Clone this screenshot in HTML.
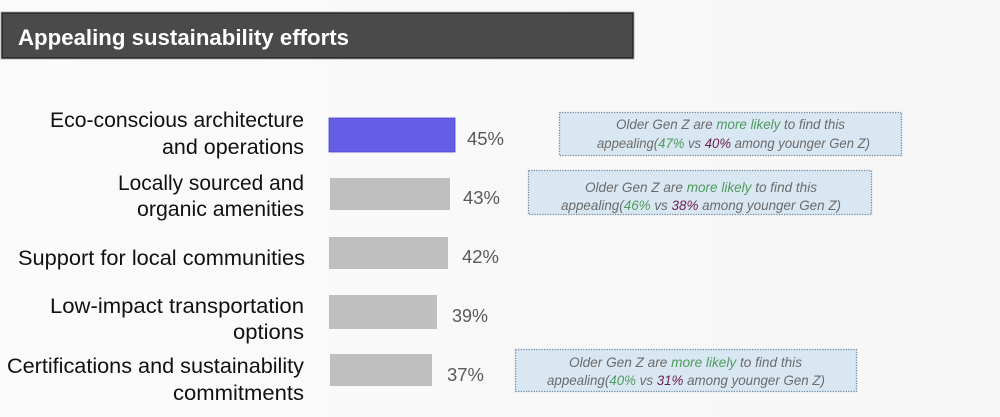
<!DOCTYPE html>
<html><head><meta charset="utf-8">
<style>
html,body{margin:0;padding:0;background:#f9f9f9;}
svg{display:block;}
text{font-family:"Liberation Sans",sans-serif;}
</style></head>
<body>
<svg width="1000" height="417" viewBox="0 0 1000 417" xmlns="http://www.w3.org/2000/svg">
<defs>
<linearGradient id="bg" x1="0" y1="0" x2="1" y2="0">
<stop offset="0" stop-color="#fbfbfb"/><stop offset="1" stop-color="#f6f6f6"/>
</linearGradient>
</defs>
<rect x="0" y="0" width="1000" height="417" fill="url(#bg)"/>

<!-- title bar -->
<rect x="1" y="12" width="633" height="47" fill="none" stroke="#b5b5b5" stroke-width="1"/>
<rect x="2" y="13" width="631" height="45" fill="#4a4a4a" stroke="#1c1c1c" stroke-width="1.2"/>
<text x="18" y="45" font-size="22" font-weight="bold" fill="#ffffff" textLength="331" lengthAdjust="spacingAndGlyphs">Appealing sustainability efforts</text>

<!-- category labels -->
<g font-size="21" fill="#111111" text-anchor="end">
<text x="304" y="127" textLength="254" lengthAdjust="spacingAndGlyphs">Eco-conscious architecture</text>
<text x="304" y="154" textLength="142" lengthAdjust="spacingAndGlyphs">and operations</text>
<text x="304" y="190" textLength="186" lengthAdjust="spacingAndGlyphs">Locally sourced and</text>
<text x="304" y="216" textLength="167" lengthAdjust="spacingAndGlyphs">organic amenities</text>
<text x="305" y="265" textLength="287" lengthAdjust="spacingAndGlyphs">Support for local communities</text>
<text x="304" y="313" textLength="254" lengthAdjust="spacingAndGlyphs">Low-impact transportation</text>
<text x="304" y="339" textLength="71" lengthAdjust="spacingAndGlyphs">options</text>
<text x="304" y="373" textLength="297" lengthAdjust="spacingAndGlyphs">Certifications and sustainability</text>
<text x="304" y="400" textLength="131" lengthAdjust="spacingAndGlyphs">commitments</text>
</g>

<!-- bars -->
<rect x="329" y="118" width="126" height="34" fill="#665de6" stroke="#4d45c8" stroke-width="0.8"/>
<rect x="330" y="178" width="120" height="32" fill="#bfbfbf"/>
<rect x="329" y="237" width="119" height="32" fill="#bfbfbf"/>
<rect x="329" y="295" width="108" height="34" fill="#bfbfbf"/>
<rect x="330" y="354" width="102" height="32" fill="#bfbfbf"/>

<!-- value labels -->
<g font-size="18" fill="#595959">
<text x="467" y="145" textLength="37" lengthAdjust="spacingAndGlyphs">45%</text>
<text x="463" y="204" textLength="37" lengthAdjust="spacingAndGlyphs">43%</text>
<text x="462" y="263" textLength="37" lengthAdjust="spacingAndGlyphs">42%</text>
<text x="452" y="322" textLength="36" lengthAdjust="spacingAndGlyphs">39%</text>
<text x="447" y="381" textLength="37" lengthAdjust="spacingAndGlyphs">37%</text>
</g>

<!-- callouts -->
<g stroke="#6f8aa3" stroke-width="1.3" stroke-dasharray="1.3 1.3" fill="#d9e7f2">
<rect x="559.5" y="112.5" width="342" height="43"/>
<rect x="528.5" y="170.5" width="343" height="44"/>
<rect x="515.5" y="349.5" width="341" height="42"/>
</g>
<g font-size="14" font-style="italic" fill="#6b6b6b">
<text x="616" y="129" textLength="229" lengthAdjust="spacingAndGlyphs">Older Gen Z are <tspan fill="#4f9a5f">more likely</tspan> to find this</text>
<text x="597" y="148" textLength="273" lengthAdjust="spacingAndGlyphs">appealing(<tspan fill="#4f9a5f">47%</tspan> vs <tspan fill="#6a1f4d">40%</tspan> among younger Gen Z)</text>

<text x="585" y="192" textLength="232" lengthAdjust="spacingAndGlyphs">Older Gen Z are <tspan fill="#4f9a5f">more likely</tspan> to find this</text>
<text x="561" y="210" textLength="280" lengthAdjust="spacingAndGlyphs">appealing(<tspan fill="#4f9a5f">46%</tspan> vs <tspan fill="#6a1f4d">38%</tspan> among younger Gen Z)</text>

<text x="569" y="367" textLength="233" lengthAdjust="spacingAndGlyphs">Older Gen Z are <tspan fill="#4f9a5f">more likely</tspan> to find this</text>
<text x="547" y="385" textLength="278" lengthAdjust="spacingAndGlyphs">appealing(<tspan fill="#4f9a5f">40%</tspan> vs <tspan fill="#6a1f4d">31%</tspan> among younger Gen Z)</text>
</g>
</svg>
</body></html>
